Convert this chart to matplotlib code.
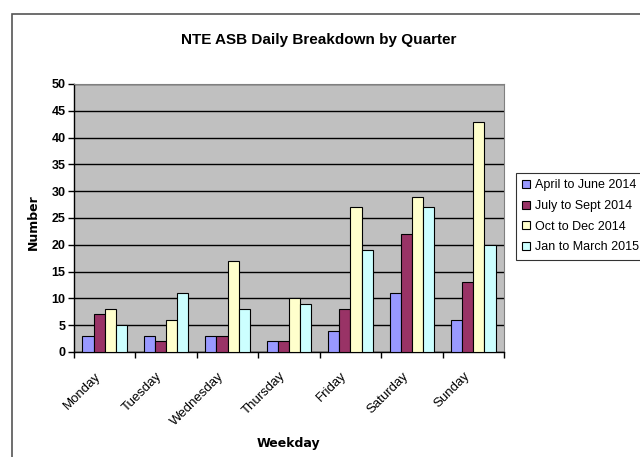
import matplotlib
matplotlib.use("Agg")
import matplotlib.pyplot as plt
import matplotlib.patches as mpatches
import matplotlib.transforms as mtransforms
import numpy as np

plt.rcParams['font.family'] = ['Liberation Sans', 'DejaVu Sans']

days = ["Monday", "Tuesday", "Wednesday", "Thursday", "Friday", "Saturday", "Sunday"]
series_names = ["April to June 2014", "July to Sept 2014", "Oct to Dec 2014", "Jan to March 2015"]
apr_jun_2014 = [3, 3, 3, 2, 4, 11, 6]
jul_sep_2014 = [7, 2, 3, 2, 8, 22, 13]
oct_dec_2014 = [8, 6, 17, 10, 27, 29, 43]
jan_mar_2015 = [5, 11, 8, 9, 19, 27, 20]
colors = ["#9999FF", "#993366", "#FFFFCC", "#CCFFFF"]

W, H = 640, 457
fig = plt.figure(figsize=(6.4, 4.57), dpi=100)

# chart border
fig.patches.append(mpatches.Rectangle((12 / W, -0.1), 1.2, (1 - 14 / H) + 0.1,
                                      transform=fig.transFigure, fill=False,
                                      edgecolor="#555555", linewidth=1.2))

ax = fig.add_axes([74 / W, 1 - 352 / H, (504 - 74) / W, (352 - 84) / H])
ax.set_facecolor("#C0C0C0")

x = np.arange(len(days))
bw = 1 / 5.5
data = [apr_jun_2014, jul_sep_2014, oct_dec_2014, jan_mar_2015]
for i, (vals, c, name) in enumerate(zip(data, colors, series_names)):
    ax.bar(x + (i - 1.5) * bw, vals, width=bw, color=c, edgecolor="black",
           linewidth=0.8, label=name, zorder=3)

ax.set_xlim(-0.5, len(days) - 0.5)
ax.set_ylim(0, 50)
ax.set_yticks(range(0, 51, 5))
ax.yaxis.grid(True, color="black", linewidth=1.0, zorder=1)
ax.set_axisbelow(True)

ax.set_xticks(np.arange(-0.5, len(days), 1))
ax.set_xticklabels([])
offset = mtransforms.ScaledTranslation(-10 / 100, -18 / 100, fig.dpi_scale_trans)
trans = ax.get_xaxis_transform() + offset
for xi, d in zip(x, days):
    ax.text(xi, 0, d, transform=trans, rotation=45, ha="right", va="top",
            rotation_mode="anchor", fontsize=9.5, clip_on=False)
ax.tick_params(axis="x", which="major", length=4, direction="out", width=1)
ax.tick_params(axis="y", length=4, direction="out", width=1, labelsize=9, pad=2)
for lab in ax.get_yticklabels():
    lab.set_fontweight("bold")

for s in ["top", "right"]:
    ax.spines[s].set_color("#808080")
for s in ["left", "bottom"]:
    ax.spines[s].set_color("black")
    ax.spines[s].set_linewidth(1.0)

fig.text(319 / W, 1 - 40 / H, "NTE ASB Daily Breakdown by Quarter",
         ha="center", va="center", fontsize=11, fontweight="bold")
fig.text(33 / W, 1 - 222 / H, "Number", rotation=90, ha="center", va="center",
         fontsize=9, fontweight="bold", family=["DejaVu Sans"])
fig.text(288 / W, 1 - 443 / H, "Weekday", ha="center", va="center",
         fontsize=9, fontweight="bold", family=["DejaVu Sans"])

leg = fig.legend(loc="upper left", bbox_to_anchor=(516 / W, 1 - 173 / H),
                 fontsize=9.0, frameon=True, fancybox=False,
                 handlelength=0.6, handleheight=0.6, handletextpad=0.4,
                 labelspacing=0.7, borderpad=0.5, borderaxespad=0)
leg.get_frame().set_edgecolor("black")
leg.get_frame().set_linewidth(0.8)

fig.savefig("out.png", dpi=100)
